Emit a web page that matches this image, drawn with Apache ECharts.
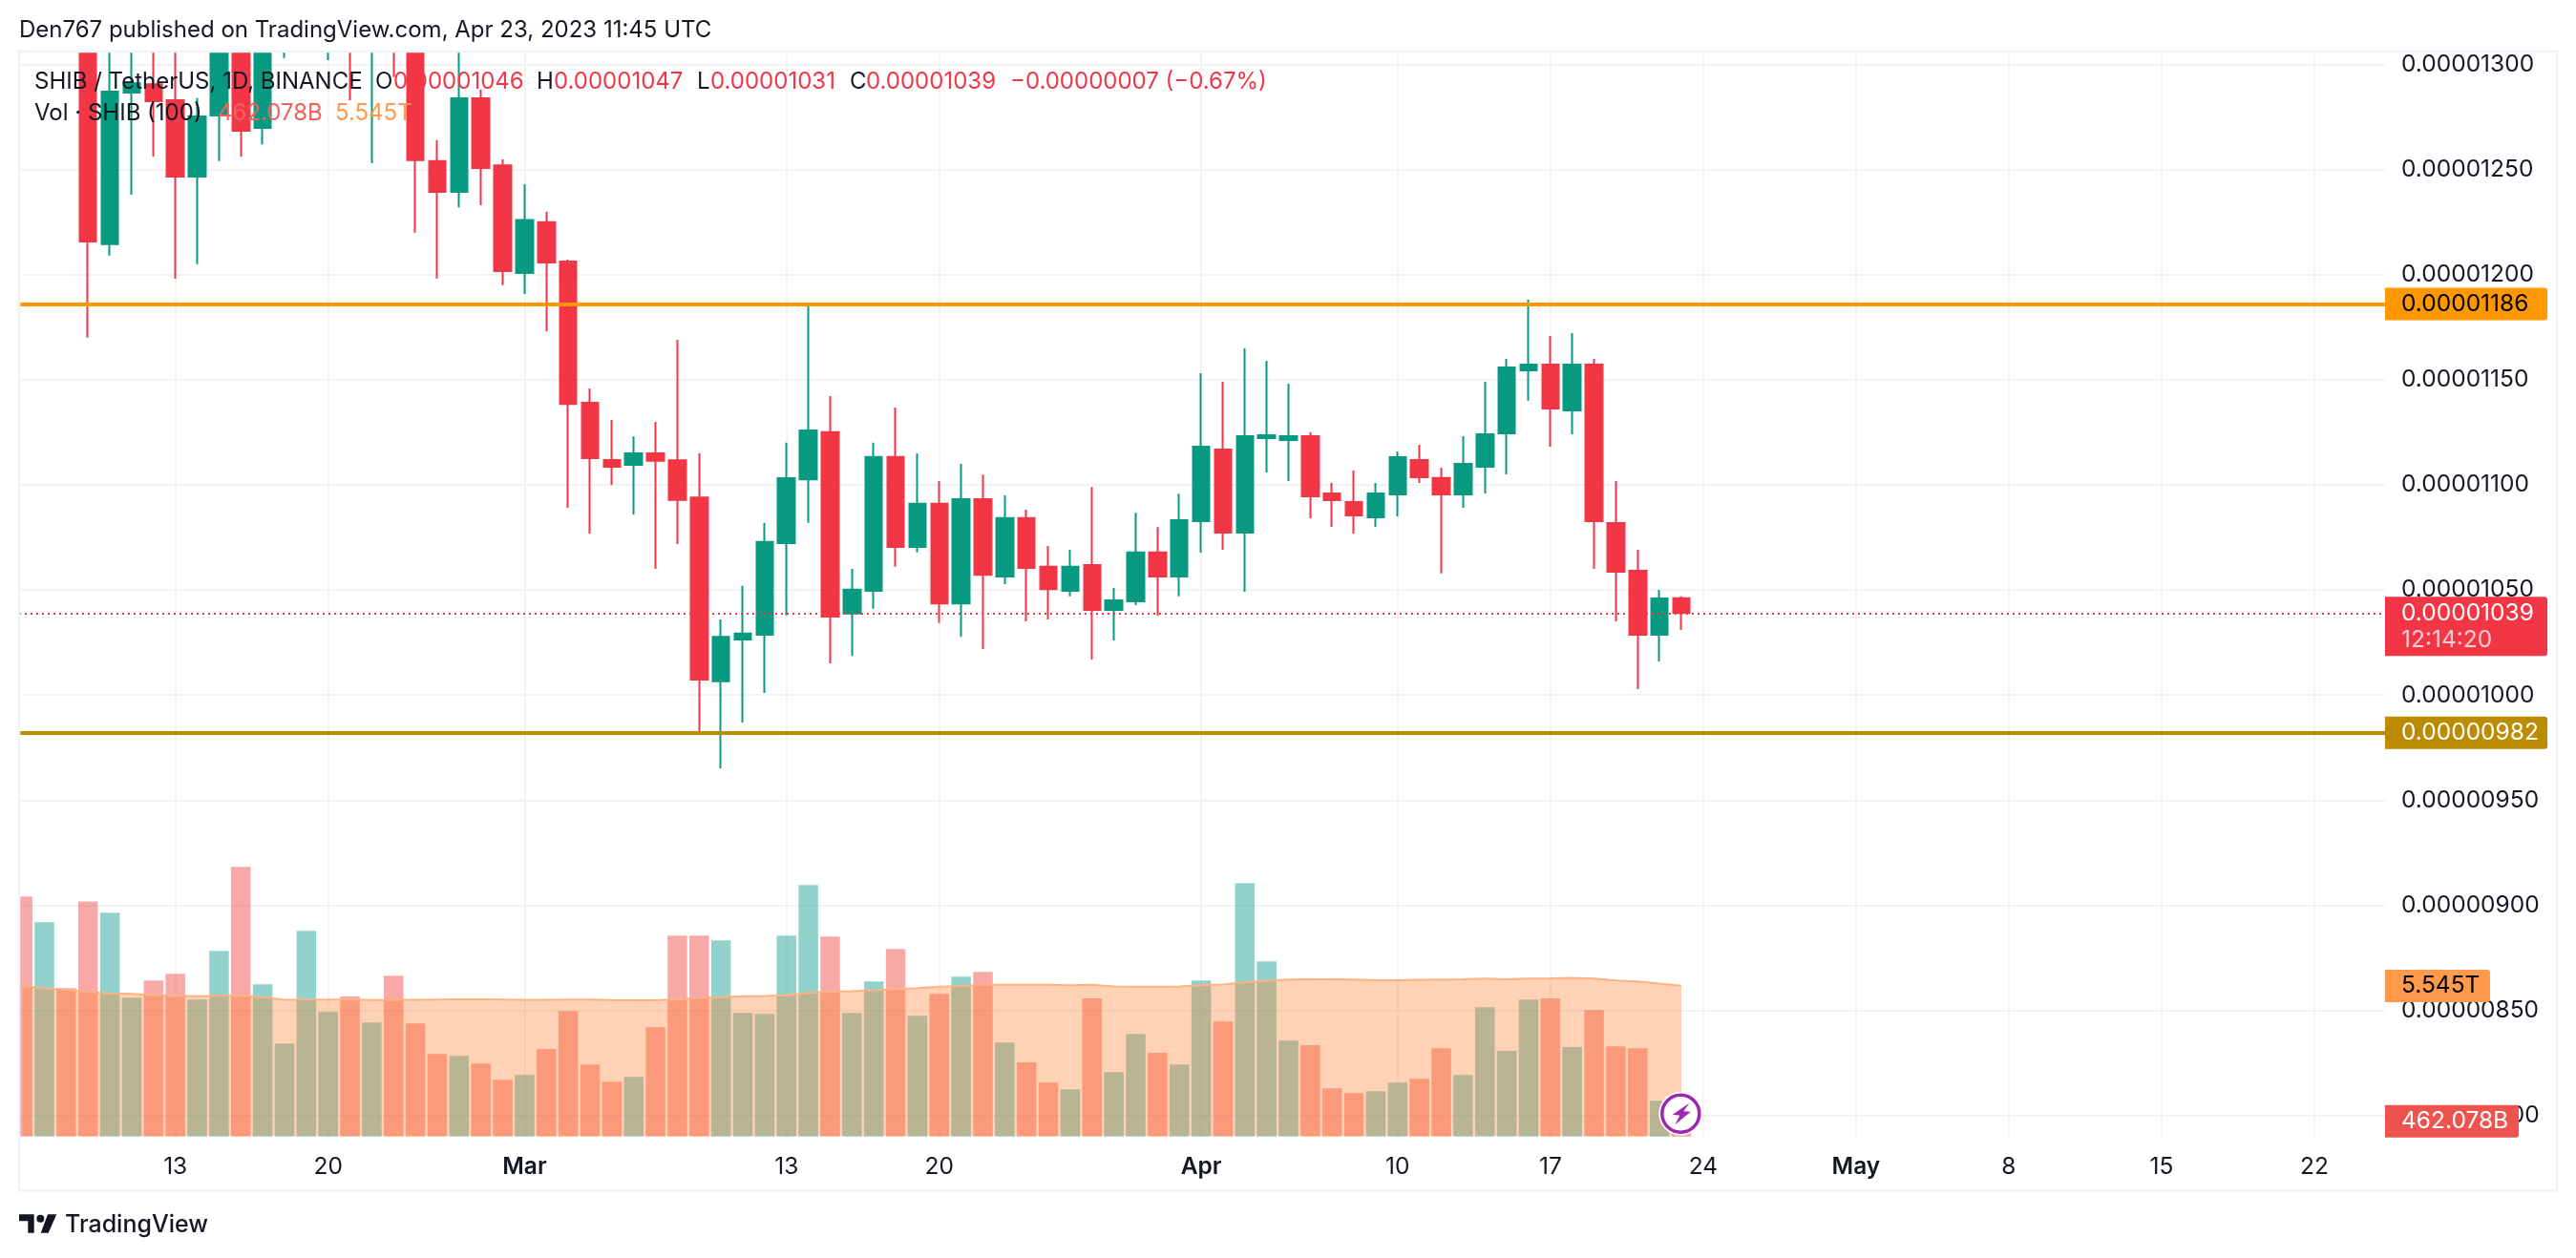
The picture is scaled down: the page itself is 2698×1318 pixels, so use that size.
<!DOCTYPE html>
<html>
<head>
<meta charset="utf-8">
<title>SHIB / TetherUS</title>
<style>
  html, body { margin: 0; padding: 0; background: #fff; }
  #main { width: 2698px; height: 1318px; }
</style>
<script src="https://cdn.jsdelivr.net/npm/echarts@6/dist/echarts.min.js"></script>
</head>
<body>
<div id="main"></div>
<script>
// prices are in units of 0.00000001, volume in trillions
var firstDay = '2023-02-06';
var opens = [1345, 1325, 1345, 1320, 1214.5, 1286.6, 1290.5, 1283, 1246.6, 1275.7, 1325, 1269.8, 1322, 1330, 1345, 1350, 1306.5, 1325, 1312, 1254, 1239.4, 1283.9, 1252, 1200.8, 1224.9, 1206.2, 1139, 1111.8, 1109.5, 1115, 1111.7, 1094, 1006.5, 1026.4, 1028.7, 1072.3, 1102.6, 1125, 1038.8, 1049.6, 1113.2, 1070.5, 1091, 1043.6, 1093.2, 1056.4, 1084.2, 1061, 1049.6, 1061.8, 1040.5, 1044.6, 1067.8, 1056.4, 1082.7, 1116.8, 1077.3, 1122.2, 1121.3, 1123.1, 1095.9, 1091.8, 1084.5, 1095.4, 1111.8, 1103.2, 1095.4, 1108.6, 1124.5, 1154.5, 1157.2, 1135.4, 1157.2, 1081.8, 1059.1, 1028.7, 1046];
var closes = [1325, 1345, 1320, 1215.8, 1287, 1291, 1282.5, 1246.6, 1275.2, 1325, 1268.4, 1325, 1330, 1345, 1350, 1306.5, 1325, 1312, 1254.5, 1239.4, 1283.9, 1250.7, 1201.7, 1226, 1205.8, 1138.5, 1112.7, 1108.6, 1115, 1111.4, 1092.8, 1007.3, 1027.7, 1029.2, 1072.8, 1103.1, 1125.8, 1037.3, 1050.1, 1113.2, 1070.5, 1091, 1043.6, 1093.2, 1057.2, 1084.2, 1060.5, 1050.4, 1061, 1040.5, 1045, 1067.8, 1056.4, 1083.2, 1118.1, 1077.3, 1123.1, 1123.6, 1123.1, 1094.5, 1092.7, 1085.4, 1095.9, 1113.1, 1103.6, 1095.4, 1110, 1124, 1155.8, 1157.2, 1136.3, 1157.2, 1082.7, 1058.7, 1028.7, 1045.9, 1039];
var lows = [1312, 1318, 1310, 1170, 1209, 1238, 1256, 1198, 1205, 1254, 1256, 1262, 1303, 1318, 1302, 1283, 1253, 1294, 1220, 1198, 1232, 1233, 1195, 1190.8, 1173, 1089.1, 1076.8, 1099.9, 1085.9, 1060, 1071.8, 982.2, 965.1, 986.9, 1001, 1037.9, 1081.9, 1015.1, 1018.6, 1041, 1061, 1067.8, 1034.2, 1027.7, 1021.9, 1052.7, 1035, 1036, 1046.9, 1016.9, 1025.9, 1042.8, 1037.8, 1046.9, 1067.7, 1069.1, 1049.1, 1105.9, 1101.8, 1084.1, 1080, 1076.8, 1080, 1085, 1100.9, 1057.8, 1089.1, 1095.9, 1105, 1140, 1118.1, 1124, 1060, 1035, 1002.8, 1016, 1031];
var highs = [1352, 1350, 1350, 1335, 1315, 1312, 1315, 1310, 1284, 1335, 1345, 1335, 1340, 1350, 1360, 1355, 1330, 1330, 1320, 1264, 1315, 1288, 1254.8, 1243, 1229.9, 1207.1, 1145.8, 1130.8, 1123, 1129.9, 1169, 1115, 1036, 1051.9, 1081.9, 1120, 1185.8, 1142.2, 1060, 1120, 1136.7, 1115, 1101.8, 1110, 1104.9, 1095, 1088.2, 1070.9, 1069.1, 1099, 1050.9, 1086.7, 1079.9, 1095.8, 1153.1, 1149, 1164.9, 1159, 1148.1, 1125, 1100.9, 1106.8, 1100.9, 1115.9, 1119, 1108.1, 1123.1, 1149, 1159.9, 1188, 1170.8, 1172.2, 1159.9, 1101.8, 1069.1, 1050, 1047];
var volumes = [8.83, 7.88, 5.46, 8.65, 8.23, 5.11, 5.74, 5.99, 5.04, 6.83, 9.92, 5.6, 3.43, 7.57, 4.58, 5.15, 4.2, 5.92, 4.16, 3.04, 2.97, 2.69, 2.09, 2.27, 3.22, 4.62, 2.65, 2.02, 2.2, 4.02, 7.39, 7.39, 7.22, 4.55, 4.51, 7.39, 9.25, 7.36, 4.55, 5.71, 6.9, 4.44, 5.25, 5.88, 6.06, 3.46, 2.73, 1.99, 1.74, 5.08, 2.37, 3.78, 3.08, 2.65, 5.74, 4.23, 9.32, 6.44, 3.53, 3.36, 1.78, 1.6, 1.67, 1.99, 2.13, 3.25, 2.27, 4.76, 3.15, 5.04, 5.08, 3.29, 4.65, 3.32, 3.25, 1.32, 0.462];
var volumeMA = [5.54, 5.46, 5.4, 5.32, 5.27, 5.25, 5.2, 5.18, 5.16, 5.19, 5.17, 5.13, 5.03, 5.04, 5.04, 5.04, 5.02, 5.02, 5.03, 5.04, 5.05, 5.05, 5.04, 5.03, 5.03, 5.04, 5.04, 5.02, 5.01, 5.01, 5.05, 5.09, 5.13, 5.16, 5.17, 5.2, 5.29, 5.33, 5.35, 5.38, 5.43, 5.46, 5.51, 5.54, 5.58, 5.58, 5.58, 5.58, 5.57, 5.58, 5.52, 5.51, 5.51, 5.52, 5.57, 5.59, 5.67, 5.73, 5.78, 5.79, 5.79, 5.78, 5.75, 5.75, 5.77, 5.78, 5.79, 5.81, 5.79, 5.81, 5.82, 5.84, 5.81, 5.74, 5.71, 5.63, 5.545];

var priceTicks = [800, 850, 900, 950, 1000, 1050, 1100, 1150, 1200, 1250, 1300];
var dateTicks = ['2023-02-13', '2023-02-20', '2023-03-01', '2023-03-13', '2023-03-20', '2023-04-01', '2023-04-10', '2023-04-17', '2023-04-24', '2023-05-01', '2023-05-08', '2023-05-15', '2023-05-22'];
var dateLabels = ['13', '20', 'Mar', '13', '20', 'Apr', '10', '17', '24', 'May', '8', '15', '22'];
var resistance = 1186;
var support = 982;
var lastPrice = 1039;
var lastVolume = 0.462;
var lastVolumeMA = 5.545;

var DAY = 86400000;
var RED = '#f23645', GREEN = '#089981', TEXT = '#131722';
var FONT = 'Inter, "Noto Sans", sans-serif';

var formatPrice = function (v) { return (v / 1e8).toFixed(8); };

var days = [], candles = [], volBars = [], maLine = [];
for (var i = 0; i < opens.length; i++) {
	days[i] = Date.parse(firstDay) + i * DAY;
	candles.push([days[i], opens[i], closes[i], lows[i], highs[i]]);
	volBars.push({
		value: [days[i], volumes[i]],
		itemStyle: { color: closes[i] > opens[i] ? 'rgba(38,166,154,0.5)' : 'rgba(239,83,80,0.5)' }
	});
	maLine.push([days[i], volumeMA[i]]);
}
var dateTickValues = dateTicks.map(function (d) { return Date.parse(d); });

//右侧标签
var axisTag = function (text, bg, textColor, width, dy) {
	return {
		show: true, position: 'end', distance: 0, offset: [0, dy],
		formatter: text,
		color: textColor, backgroundColor: bg, fontFamily: FONT, fontSize: 24.5, lineHeight: 24,
		width: width - 17, overflow: 'none', align: 'left',
		padding: [5, 0, 5, 17], borderRadius: [0, 3, 3, 0]
	};
};

//价格线
var priceLine = function (value, color, textColor) {
	return {
		yAxis: value,
		lineStyle: { color: color, width: 4, type: 'solid' },
		label: axisTag(formatPrice(value), color, textColor, 170, 0)
	};
};

//成交量标签
var volumeTag = function (value, text, bg, textColor, width, dy) {
	return {
		yAxis: value,
		lineStyle: { color: 'rgba(0,0,0,0)', width: 0 },
		label: axisTag(text, bg, textColor, width, dy)
	};
};

// header, legend rows: text, colour, x, y
var labels = [
	['Den767 published on TradingView.com, Apr 23, 2023 11:45 UTC', TEXT, 20, 32],
	['SHIB / TetherUS, 1D, BINANCE', TEXT, 36, 86],
	['O', TEXT, 393, 86], ['0.00001046', RED, 412, 86],
	['H', TEXT, 562, 86], ['0.00001047', RED, 580, 86],
	['L', TEXT, 730, 86], ['0.00001031', RED, 744, 86],
	['C', TEXT, 890, 86], ['0.00001039', RED, 907, 86],
	['\u22120.00000007 (\u22120.67%)', RED, 1058, 86],
	['Vol \u00b7 SHIB (100)', TEXT, 36, 119],
	['462.078B', '#f0625c', 228, 119],
	['5.545T', '#ff9a4d', 351, 119]
];

var graphics = labels.map(function (o) {
	return {
		type: 'text', x: o[2], y: o[3], z: 20,
		style: { text: o[0], fill: o[1], font: '24px ' + FONT, verticalAlign: 'middle' }
	};
});

// candles and bars are not cut at the pane edge, mask what runs over it
graphics.push(
	{ type: 'rect', z: 10, shape: { x: 0, y: 0, width: 2698, height: 54 }, style: { fill: '#fff' } },
	{ type: 'rect', z: 10, shape: { x: 0, y: 0, width: 20, height: 1318 }, style: { fill: '#fff' } }
);

// chart frame
graphics.push({
	type: 'rect', z: 11,
	shape: { x: 20, y: 54, width: 2658, height: 1193.5 },
	style: { fill: 'none', stroke: '#f0f3fa', lineWidth: 2.5 }
});

// lightning badge on the last bar
graphics.push({
	type: 'group', x: 1760.3, y: 1166.7, z: 20,
	children: [
		{ type: 'circle', z: 20, shape: { r: 23 }, style: { fill: '#fff' } },
		{ type: 'circle', z: 20, shape: { r: 19.5 }, style: { fill: '#fff', stroke: '#9c27b0', lineWidth: 3.5 } },
		{ type: 'polygon', z: 20, shape: { points: [[9, -11], [-8.5, 1], [-1, 2], [-6, 11.5], [10.5, -2], [3, -2.5]] }, style: { fill: '#9c27b0' } }
	]
});

// TradingView logo
graphics.push(
	{ type: 'polygon', z: 20, shape: { points: [[20, 1272.3], [35.7, 1272.3], [35.7, 1291.7], [29.3, 1291.7], [29.3, 1279.3], [20, 1279.3]] }, style: { fill: TEXT } },
	{ type: 'circle', z: 20, shape: { cx: 42.3, cy: 1276.7, r: 4 }, style: { fill: TEXT } },
	{ type: 'polygon', z: 20, shape: { points: [[50, 1272.3], [59.3, 1272.3], [50.7, 1291.7], [42.7, 1291.7]] }, style: { fill: TEXT } },
	{ type: 'text', z: 20, x: 68, y: 1283, style: { text: 'TradingView', fill: TEXT, font: '500 25px ' + FONT, verticalAlign: 'middle' } }
);

var chart = echarts.init(document.getElementById('main'), null, { renderer: 'canvas' });
chart.setOption({
	animation: false,
	backgroundColor: '#fff',
	textStyle: { fontFamily: FONT },
	graphic: graphics,
	grid: { left: 20, right: 200, top: 54, bottom: 126 },
	xAxis: {
		type: 'value',
		min: Date.parse('2023-02-13') - 7.16 * DAY,
		max: Date.parse('2023-02-13') + 101.24 * DAY,
		axisLine: { show: false },
		axisTick: { show: false, customValues: dateTickValues },
		splitLine: { show: true, lineStyle: { color: '#f2f3f5', width: 2 } },
		axisLabel: {
			customValues: dateTickValues,
			margin: 18,
			color: TEXT,
			fontFamily: FONT,
			fontSize: 24.5,
			hideOverlap: false,
			showMinLabel: true,
			showMaxLabel: true,
			formatter: function (v) {
				var t = dateLabels[dateTickValues.indexOf(v)];
				return isNaN(+t) ? '{m|' + t + '}' : t;
			},
			rich: { m: { fontWeight: 600, fontSize: 24.5, color: TEXT, fontFamily: FONT } }
		}
	},
	yAxis: [
		{
			type: 'value',
			position: 'right',
			min: 789.4,
			max: 1306.1,
			axisLine: { show: false },
			axisTick: { show: false, customValues: priceTicks },
			splitLine: { show: true, lineStyle: { color: '#f2f3f5', width: 2 } },
			axisLabel: {
				customValues: priceTicks,
				inside: false,
				margin: 17,
				align: 'left',
				padding: [2, 0, 0, 0],
				color: TEXT,
				fontFamily: FONT,
				fontSize: 24.5,
				formatter: formatPrice
			}
		},
		{
			type: 'value',
			min: -0.04,
			max: 39.9,
			show: false
		}
	],
	series: [
		{
			name: 'Vol',
			type: 'bar',
			yAxisIndex: 1,
			barWidth: 20.5,
			z: 2,
			data: volBars
		},
		{
			name: 'Vol MA',
			type: 'line',
			yAxisIndex: 1,
			symbol: 'none',
			z: 3,
			lineStyle: { color: '#ffb27f', width: 2 },
			areaStyle: { color: 'rgba(255,127,42,0.35)', origin: 0.03, opacity: 1 },
			data: maLine,
			markLine: {
				silent: true, symbol: 'none', animation: false,
				data: [
					volumeTag(lastVolumeMA, '5.545T', '#ff9a4d', '#000', 110, 0),
					volumeTag(lastVolume, '462.078B', '#ef5350', '#fff', 140, -3)
				]
			}
		},
		{
			name: 'SHIB / TetherUS',
			type: 'candlestick',
			barWidth: 18,
			z: 4,
			itemStyle: { color: GREEN, color0: RED, borderColor: GREEN, borderColor0: RED, borderWidth: 2 },
			data: candles,
			markLine: {
				silent: true, symbol: 'none', animation: false,
				data: [
					priceLine(resistance, '#ff9800', '#000'),
					priceLine(support, '#bd8b00', '#fff'),
					{
						yAxis: lastPrice,
						lineStyle: { color: RED, width: 2, type: [2, 4] },
						label: {
							show: true, position: 'end', distance: 0, offset: [0, 14],
							formatter: '{a|' + formatPrice(lastPrice) + '}\n{b|12:14:20}',
							backgroundColor: RED, padding: [3, 0, 3, 17], borderRadius: [0, 3, 3, 0],
							width: 153, overflow: 'none', align: 'left',
							rich: {
								a: { color: '#fff', fontFamily: FONT, fontSize: 24.5, lineHeight: 28 },
								b: { color: 'rgba(255,255,255,0.75)', fontFamily: FONT, fontSize: 24.5, lineHeight: 28 }
							}
						}
					}
				]
			}
		}
	]
});
</script>
</body>
</html>
